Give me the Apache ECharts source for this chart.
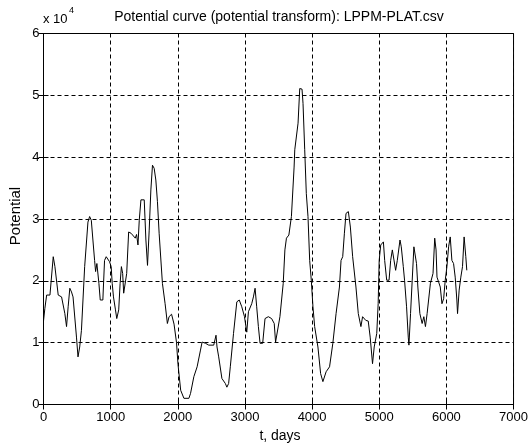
<!DOCTYPE html>
<html><head><meta charset="utf-8">
<script src="https://cdn.jsdelivr.net/npm/echarts@6/dist/echarts.min.js"></script>
<style>html,body{margin:0;padding:0;background:#fff}#c{width:531px;height:448px}</style>
</head><body><div id="c"></div>
<script>
// time in days
const tDays = [0,20,47,96,145,170,219,269,318,343,367,392,417,440,491,514,539,565,613,662,687,712,736,761,776,795,825,845,884,909,934,983,1008,1023,1042,1072,1091,1120,1141,1160,1179,1194,1219,1239,1268,1304,1327,1367,1386,1407,1426,1451,1500,1525,1549,1574,1599,1623,1648,1673,1697,1722,1771,1811,1845,1870,1907,1944,1981,2003,2043,2091,2165,2190,2239,2288,2338,2362,2412,2461,2535,2569,2584,2609,2657,2683,2708,2731,2757,2782,2830,2879,2915,2953,2993,3027,3052,3077,3101,3126,3151,3175,3200,3225,3264,3299,3348,3397,3436,3456,3485,3521,3570,3595,3618,3654,3692,3732,3742,3791,3816,3840,3850,3865,3890,3914,3939,3964,3988,4013,4038,4087,4127,4161,4209,4260,4309,4357,4407,4431,4456,4481,4505,4540,4570,4604,4653,4688,4727,4752,4800,4836,4865,4900,4925,4963,4984,4999,5022,5062,5081,5111,5146,5170,5195,5220,5244,5269,5309,5328,5358,5377,5407,5432,5442,5466,5491,5516,5531,5555,5575,5605,5639,5664,5688,5713,5762,5801,5826,5846,5860,5885,5909,5934,5959,5983,6008,6033,6057,6082,6107,6131,6156,6166,6190,6215,6240,6264,6289,6304];
// potential in units of 10^4
const potentialE4 = [1.35,1.55,1.77,1.77,2.39,2.23,1.77,1.74,1.47,1.26,1.58,1.88,1.82,1.74,1.09,0.77,0.93,1.20,2.23,2.95,3.04,2.98,2.66,2.33,2.15,2.28,1.96,1.69,1.69,2.33,2.39,2.31,2.23,1.96,1.74,1.53,1.39,1.53,1.96,2.23,2.12,1.80,1.80,2.12,2.79,2.77,2.79,2.69,2.75,2.58,2.98,3.31,3.31,2.66,2.25,2.82,3.47,3.87,3.82,3.63,3.28,2.77,1.96,1.63,1.31,1.42,1.46,1.30,1.00,0.65,0.23,0.10,0.10,0.18,0.45,0.61,0.88,1.01,0.99,0.96,0.96,1.12,0.93,0.77,0.42,0.44,0.34,0.28,0.34,0.61,1.15,1.66,1.69,1.58,1.42,1.17,1.50,1.52,1.63,1.74,1.88,1.58,1.26,0.99,0.99,1.39,1.42,1.39,1.31,1.01,0.99,1.42,1.96,2.50,2.69,2.74,3.04,3.84,4.12,4.55,5.11,5.14,5.10,4.87,4.12,3.41,3.04,2.33,2.01,1.58,1.26,0.93,0.50,0.37,0.53,0.61,0.99,1.47,1.90,2.33,2.39,2.77,3.09,3.12,2.87,2.39,1.90,1.47,1.26,1.42,1.36,1.35,1.09,0.66,0.93,1.15,1.63,2.33,2.58,2.63,2.33,2.01,2.01,2.33,2.50,2.47,2.17,2.33,2.66,2.55,2.23,2.01,1.58,1.09,0.96,1.47,2.01,2.55,2.58,2.28,1.90,1.47,1.31,1.42,1.26,1.47,1.96,2.12,2.69,2.50,2.06,1.98,1.90,1.63,1.71,2.01,2.23,2.55,2.71,2.33,2.28,2.06,1.69,1.47,1.85,2.06,2.23,2.71,2.39,2.17];
const xTickLabels = ['0','1000','2000','3000','4000','5000','6000','7000'];
const yTickLabels = ['0','1','2','3','4','5','6'];
const titleText = 'Potential curve (potential transform): LPPM-PLAT.csv';
const xLabel = 't, days';
const yLabel = 'Potential';

const FONT = 'Liberation Sans, Arial, sans-serif';
const chart = echarts.init(document.getElementById('c'), null, {renderer: 'canvas'});
const gridLine = {show: true, lineStyle: {color: '#000', type: [4, 3], width: 1}};
const axLine = {show: true, lineStyle: {color: '#000', width: 1}};
const tick = {show: true, inside: true, length: 5, lineStyle: {color: '#000'}};
const seriesData = tDays.map((t, i) => [t, potentialE4[i]]);

chart.setOption({
  animation: false,
  backgroundColor: '#fff',
  grid: {left: 43.5, right: 14, top: 33.5, bottom: 43.5, show: true, borderColor: '#000', borderWidth: 1, backgroundColor: 'transparent'},
  xAxis: [
    {type: 'value', position: 'bottom', min: 0, max: 7000, interval: 1000,
     axisLine: axLine, axisTick: tick, splitLine: gridLine,
     axisLabel: {color: '#000', fontFamily: FONT, fontSize: 13, margin: 6,
       formatter: v => xTickLabels[Math.round(v / 1000)]}},
    {type: 'value', position: 'top', min: 0, max: 7000, interval: 1000,
     axisLine: axLine, axisTick: tick, splitLine: {show: false}, axisLabel: {show: false}}
  ],
  yAxis: [
    {type: 'value', position: 'left', min: 0, max: 6, interval: 1,
     axisLine: axLine, axisTick: tick, splitLine: gridLine,
     axisLabel: {color: '#000', fontFamily: FONT, fontSize: 13, margin: 4,
       formatter: v => yTickLabels[Math.round(v)]}},
    {type: 'value', position: 'right', min: 0, max: 6, interval: 1,
     axisLine: axLine, axisTick: tick, splitLine: {show: false}, axisLabel: {show: false}}
  ],
  series: [{
    type: 'line', xAxisIndex: 0, yAxisIndex: 0, data: seriesData,
    showSymbol: false, symbol: 'none',
    lineStyle: {color: '#000', width: 1}
  }],
  graphic: [
    {type: 'text', x: 279, y: 17, style: {text: titleText, fill: '#000', font: '14px ' + FONT, textAlign: 'center', textVerticalAlign: 'middle'}},
    {type: 'text', x: 43, y: 19, style: {text: 'x 10', fill: '#000', font: '13px ' + FONT, textAlign: 'left', textVerticalAlign: 'middle'}},
    {type: 'text', x: 69, y: 11, style: {text: '4', fill: '#000', font: '9px ' + FONT, textAlign: 'left', textVerticalAlign: 'middle'}},
    {type: 'text', x: 280, y: 436, style: {text: xLabel, fill: '#000', font: '14px ' + FONT, textAlign: 'center', textVerticalAlign: 'middle'}},
    {type: 'text', x: 16, y: 216, rotation: Math.PI / 2, style: {text: yLabel, fill: '#000', font: '15px ' + FONT, textAlign: 'center', textVerticalAlign: 'middle'}}
  ]
});
</script>
</body></html>
